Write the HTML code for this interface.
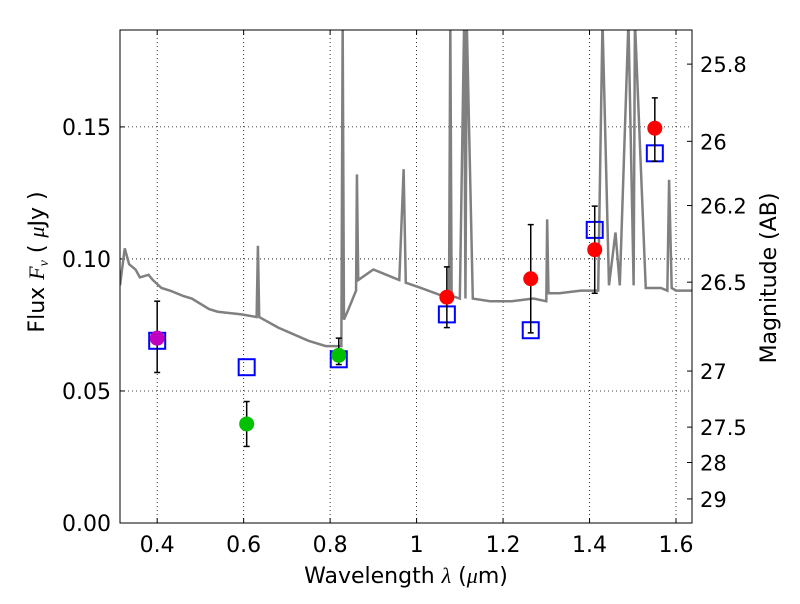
<!DOCTYPE html>
<html><head><meta charset="utf-8"><style>
body{margin:0;background:#fff;font-family:"DejaVu Sans","Liberation Sans",sans-serif}
</style></head><body>
<svg id="chart" width="800" height="600" xmlns="http://www.w3.org/2000/svg" font-family="DejaVu Sans, Liberation Sans, sans-serif"></svg>
<script>
const specLambda=[0.314,0.325,0.335,0.35,0.36,0.38,0.39,0.41,0.43,0.46,0.48,0.52,0.54,0.595,0.63,0.633,0.636,0.68,0.75,0.79,0.826,0.829,0.832,0.84,0.86,0.862,0.865,0.9,0.96,0.97,0.975,1.01,1.06,1.075,1.078,1.081,1.1,1.11,1.113,1.116,1.13,1.17,1.22,1.27,1.3,1.302,1.305,1.33,1.38,1.42,1.43,1.445,1.46,1.47,1.49,1.502,1.505,1.53,1.565,1.58,1.584,1.59,1.6,1.637];
const specFlux=[0.090,0.104,0.098,0.096,0.093,0.094,0.092,0.089,0.088,0.086,0.085,0.081,0.080,0.079,0.078,0.105,0.078,0.074,0.069,0.067,0.067,0.19,0.077,0.080,0.088,0.132,0.092,0.096,0.092,0.134,0.091,0.089,0.086,0.086,0.19,0.086,0.085,0.19,0.085,0.19,0.085,0.084,0.084,0.085,0.084,0.115,0.087,0.087,0.088,0.088,0.19,0.090,0.11,0.090,0.19,0.090,0.19,0.089,0.089,0.088,0.13,0.089,0.088,0.088];
const circLambda=[0.400,0.607,0.820,1.070,1.264,1.412,1.551];
const circFlux=[0.070,0.0375,0.0635,0.0855,0.0925,0.1035,0.1495];
const errLo=[0.057,0.029,0.060,0.074,0.072,0.087,0.137];
const errHi=[0.084,0.046,0.070,0.097,0.113,0.120,0.161];
const circColor=['#bf00bf','#00c000','#00c000','red','red','red','red'];
const sqLambda=[0.400,0.607,0.820,1.070,1.264,1.412,1.551];
const sqFlux=[0.069,0.059,0.062,0.079,0.073,0.111,0.140];
const xTicks=[0.4,0.6,0.8,1.0,1.2,1.4,1.6];
const xTickLabels=['0.4','0.6','0.8','1','1.2','1.4','1.6'];
const yTicks=[0,0.05,0.10,0.15];
const yTickLabels=['0.00','0.05','0.10','0.15'];
const magTicks=[25.8,26,26.2,26.5,27,27.5,28,29];
const magLabels=['25.8','26','26.2','26.5','27','27.5','28','29'];

const L=120,R=692,T=30,B=523,xmin=0.314,xmax=1.637,ymin=0,ymax=0.1867;
const sx=v=>L+(v-xmin)/(xmax-xmin)*(R-L);
const sy=v=>B-(v-ymin)/(ymax-ymin)*(B-T);
const svg=document.getElementById('chart');
const NS='http://www.w3.org/2000/svg';
function mk(tag,attrs,parent){const e=document.createElementNS(NS,tag);for(const k in attrs)e.setAttribute(k,attrs[k]);(parent||svg).appendChild(e);return e;}
const defs=mk('defs',{});const cp=mk('clipPath',{id:'clip'},defs);mk('rect',{x:L,y:T,width:R-L,height:B-T},cp);
xTicks.forEach((v,i)=>{const x=sx(v);
 const g=mk('line',{x1:x,x2:x,y1:T,y2:B,stroke:'#000','stroke-dasharray':'1,3','stroke-width':0.8});
 
 mk('line',{x1:x,x2:x,y1:B,y2:B-5,stroke:'#000'});mk('line',{x1:x,x2:x,y1:T,y2:T+5,stroke:'#000'});
 const t=mk('text',{x:x,y:B+29,'text-anchor':'middle','font-size':22});t.textContent=xTickLabels[i];
 });
yTicks.forEach((v,i)=>{const y=sy(v);
 if(v>0){const g=mk('line',{x1:L,x2:R,y1:y,y2:y,stroke:'#000','stroke-dasharray':'1,3','stroke-width':0.8});
 }
 mk('line',{x1:L,x2:L+5,y1:y,y2:y,stroke:'#000'});
 const t=mk('text',{x:L-9,y:y+8,'text-anchor':'end','font-size':22});t.textContent=yTickLabels[i];
 });
magTicks.forEach((m,i)=>{const f=Math.pow(10,(23.9-m)/2.5);const y=sy(f);
 mk('line',{x1:R,x2:R-5,y1:y,y2:y,stroke:'#000'});
 const t=mk('text',{x:R+8,y:y+8,'font-size':21});t.textContent=magLabels[i];
 });
const sp=mk('polyline',{points:specLambda.map((l,i)=>sx(l)+','+sy(specFlux[i])).join(' '),fill:'none',stroke:'#808080','stroke-width':2.5,'clip-path':'url(#clip)'});

sqLambda.forEach((l,i)=>{const r=mk('rect',{x:sx(l)-8,y:sy(sqFlux[i])-8,width:16,height:16,fill:'none',stroke:'#0000ff','stroke-width':2});
 });
circLambda.forEach((l,i)=>{const x=sx(l);
 const e=mk('g',{stroke:'#000','stroke-width':1.5});
 
 mk('line',{x1:x,x2:x,y1:sy(errLo[i]),y2:sy(errHi[i])},e);
 mk('line',{x1:x-3,x2:x+3,y1:sy(errLo[i]),y2:sy(errLo[i])},e);
 mk('line',{x1:x-3,x2:x+3,y1:sy(errHi[i]),y2:sy(errHi[i])},e);
 const c=mk('circle',{cx:x,cy:sy(circFlux[i]),r:7.5,fill:circColor[i]});
 });
const fr=mk('rect',{x:L,y:T,width:R-L,height:B-T,fill:'none',stroke:'#000','stroke-width':1});

const xt=mk('text',{x:406,y:583,'text-anchor':'middle','font-size':22,'xml:space':'preserve'});
xt.innerHTML='Wavelength  <tspan font-style="italic" font-family="Liberation Serif">λ</tspan> (<tspan font-style="italic" font-family="Liberation Serif">μ</tspan>m)';

const yt=mk('text',{x:0,y:0,'text-anchor':'middle','font-size':22,transform:'translate(44,262) rotate(-90)'});
yt.innerHTML='Flux  <tspan font-style="italic" font-family="Liberation Serif">F</tspan><tspan font-style="italic" font-family="Liberation Serif" font-size="14" dy="4">ν</tspan><tspan dy="-4">  ( </tspan><tspan font-style="italic" font-family="Liberation Serif">μ</tspan>Jy )';

const rt=mk('text',{x:0,y:0,'text-anchor':'middle','font-size':22,transform:'translate(776,278) rotate(-90)'});
rt.textContent='Magnitude (AB)';

</script>
</body></html>
